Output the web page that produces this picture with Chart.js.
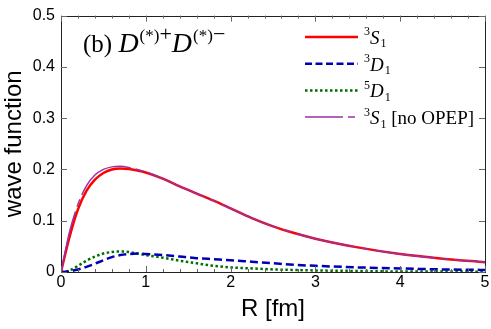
<!DOCTYPE html>
<html>
<head>
<meta charset="utf-8">
<script src="https://cdn.jsdelivr.net/npm/chart.js@4/dist/chart.umd.min.js"></script>
<style>
  html, body { margin: 0; padding: 0; background: #fff; }
</style>
</head>
<body>
<canvas id="myChart" width="491" height="329"></canvas>
<script>
// R [fm] grid and wave function values
var radius = [0, 0.05, 0.1, 0.2, 0.3, 0.4, 0.5, 0.6, 0.7, 0.8, 0.9, 1.0, 1.2, 1.4, 1.6, 1.8, 2.0, 2.25, 2.5, 2.75, 3.0, 3.5, 4.0, 4.5, 5.0];
var wave_3S1 = [0, 0.035, 0.068, 0.122, 0.158, 0.180, 0.193, 0.200, 0.202, 0.201, 0.198, 0.194, 0.182, 0.167, 0.153, 0.139, 0.124, 0.105, 0.089, 0.076, 0.065, 0.048, 0.035, 0.026, 0.019];
var wave_3D1 = [0, 0.0005, 0.001, 0.005, 0.010, 0.016, 0.023, 0.029, 0.033, 0.035, 0.036, 0.035, 0.033, 0.030, 0.027, 0.025, 0.023, 0.020, 0.017, 0.014, 0.012, 0.009, 0.007, 0.005, 0.004];
var wave_5D1 = [0, 0.001, 0.003, 0.012, 0.022, 0.030, 0.036, 0.039, 0.040, 0.039, 0.036, 0.033, 0.028, 0.022, 0.017, 0.012, 0.009, 0.007, 0.005, 0.004, 0.003, 0.002, 0.001, 0.001, 0.0005];
var wave_3S1_noOPEP = [0, 0.040, 0.078, 0.132, 0.168, 0.189, 0.200, 0.205, 0.206, 0.204, 0.200, 0.195, 0.182, 0.167, 0.153, 0.139, 0.124, 0.105, 0.089, 0.076, 0.065, 0.048, 0.035, 0.026, 0.019];
var xTickLabels = [0, 1, 2, 3, 4, 5];
var yTickLabels = [0, 0.1, 0.2, 0.3, 0.4, 0.5];

function pts(vals) {
    return radius.map(function (r, i) { return { x: r, y: vals[i] }; });
}

var sansFont = '"Liberation Sans", Arial, Helvetica, sans-serif';
var serifFont = '"Liberation Serif", "Times New Roman", serif';

// legend entries: colour, width, dash, label parts
var legendItems = [
    { color: '#ff0000', width: 2.5, dash: [], parts: [['3', 'sup'], ['S', 'it'], ['1', 'sub']] },
    { color: '#0000b4', width: 2.5, dash: [7, 3.5], parts: [['3', 'sup'], ['D', 'it'], ['1', 'sub']] },
    { color: '#006e00', width: 2.5, dash: [2.5, 2.5], parts: [['5', 'sup'], ['D', 'it'], ['1', 'sub']] },
    { color: '#9932a0', width: 1.5, dash: [38, 5, 7, 5], parts: [['3', 'sup'], ['S', 'it'], ['1', 'sub'], [' [no OPEP]', 'rm']] }
];

function drawParts(ctx, x, y, parts, size) {
    parts.forEach(function (p) {
        var t = p[0], kind = p[1], dy = 0, f;
        if (kind === 'sup') { f = Math.round(size * 0.65) + 'px ' + serifFont; dy = -size * 0.45; }
        else if (kind === 'sub') { f = Math.round(size * 0.65) + 'px ' + serifFont; dy = size * 0.18; }
        else if (kind === 'it') { f = 'italic ' + size + 'px ' + serifFont; }
        else { f = size + 'px ' + serifFont; }
        ctx.font = f;
        ctx.fillText(t, x, y + dy);
        x += ctx.measureText(t).width + (kind === 'it' ? 1 : 0);
    });
}

var decor = {
    id: 'decor',
    afterDraw: function (chart) {
        var ctx = chart.ctx, a = chart.chartArea, sx = chart.scales.x, sy = chart.scales.y;
        ctx.save();
        ctx.strokeStyle = '#222';
        ctx.lineWidth = 1;
        ctx.setLineDash([]);
        ctx.strokeRect(Math.round(a.left) + 0.5, Math.round(a.top) + 0.5, Math.round(a.right - a.left), Math.round(a.bottom - a.top));
        // inward ticks
        ctx.strokeStyle = '#666';
        ctx.beginPath();
        for (var i = 0; i <= 25; i++) {
            var px = Math.round(sx.getPixelForValue(i / 5)) + 0.5;
            var len = (i % 5 === 0) ? 6 : 3;
            ctx.moveTo(px, a.bottom); ctx.lineTo(px, a.bottom - len);
            ctx.moveTo(px, a.top); ctx.lineTo(px, a.top + len);
        }
        yTickLabels.forEach(function (v) {
            var py = Math.round(sy.getPixelForValue(v)) + 0.5;
            ctx.moveTo(a.left, py); ctx.lineTo(a.left + 6, py);
            ctx.moveTo(a.right, py); ctx.lineTo(a.right - 6, py);
        });
        ctx.stroke();

        // panel title
        ctx.fillStyle = '#000';
        ctx.textBaseline = 'alphabetic';
        ctx.textAlign = 'left';
        var x = 83, y = 52;
        ctx.font = '25px ' + serifFont;
        ctx.fillText('(b) ', x, y); x += ctx.measureText('(b) ').width;
        ['+', '\u2212'].forEach(function (sign) {
            ctx.font = 'italic 28px ' + serifFont;
            ctx.fillText('D', x, y); x += ctx.measureText('D').width + 1;
            ctx.font = '17px ' + serifFont;
            ctx.fillText('(*)', x, y - 11); x += ctx.measureText('(*)').width;
            ctx.font = '22px ' + serifFont;
            ctx.fillText(sign, x, y - 11); x += ctx.measureText(sign).width;
        });

        // legend
        legendItems.forEach(function (it, k) {
            var ly = 37 + k * 26.7;
            ctx.strokeStyle = it.color;
            ctx.lineWidth = it.width;
            ctx.setLineDash(it.dash);
            ctx.beginPath();
            ctx.moveTo(305, ly); ctx.lineTo(358, ly);
            ctx.stroke();
            ctx.setLineDash([]);
            ctx.fillStyle = '#000';
            drawParts(ctx, 364, ly + 7, it.parts, 19);
        });
        ctx.restore();
    }
};

var myChart = document.getElementById('myChart').getContext('2d');
var chart = new Chart(myChart, {
    type: 'line',
    data: {
        datasets: [{
            label: '3S1',
            data: pts(wave_3S1),
            borderColor: '#ff0000',
            borderWidth: 2.5,
            order: 2
        }, {
            label: '3D1',
            data: pts(wave_3D1),
            borderColor: '#0000b4',
            borderWidth: 2.5,
            borderDash: [8, 4],
            order: 3
        }, {
            label: '5D1',
            data: pts(wave_5D1),
            borderColor: '#006e00',
            borderWidth: 2.5,
            borderDash: [2.5, 2.5],
            order: 4
        }, {
            label: '3S1 [no OPEP]',
            data: pts(wave_3S1_noOPEP),
            borderColor: '#9932a0',
            borderWidth: 1.5,
            borderDash: [62, 5, 8, 5],
            order: 1
        }]
    },
    options: {
        responsive: false,
        animation: false,
        layout: { padding: { top: 9, right: 6, left: 0, bottom: 0 } },
        elements: {
            point: { radius: 0 },
            line: { tension: 0.4, cubicInterpolationMode: 'monotone', fill: false }
        },
        plugins: {
            legend: { display: false },
            tooltip: { enabled: false }
        },
        scales: {
            x: {
                type: 'linear',
                min: 0, max: 5,
                afterFit: function (s) { s.height = 57; },
                afterBuildTicks: function (s) { s.ticks = xTickLabels.map(function (v) { return { value: v }; }); },
                grid: { display: false, drawTicks: false },
                border: { display: false },
                ticks: { color: '#000', padding: 1, font: { family: sansFont, size: 16 } },
                title: { display: true, text: 'R [fm]', color: '#000', padding: { top: 0, bottom: 5 }, font: { family: sansFont, size: 24 } }
            },
            y: {
                min: 0, max: 0.5,
                afterFit: function (s) { s.width = 61; },
                afterBuildTicks: function (s) { s.ticks = yTickLabels.map(function (v) { return { value: v }; }); },
                grid: { display: false, drawTicks: false },
                border: { display: false },
                ticks: { color: '#000', padding: 6, font: { family: sansFont, size: 16 } },
                title: { display: true, text: 'wave function', color: '#000', padding: { top: 0, bottom: 0 }, font: { family: sansFont, size: 24 } }
            }
        }
    },
    plugins: [decor]
});
</script>
</body>
</html>
